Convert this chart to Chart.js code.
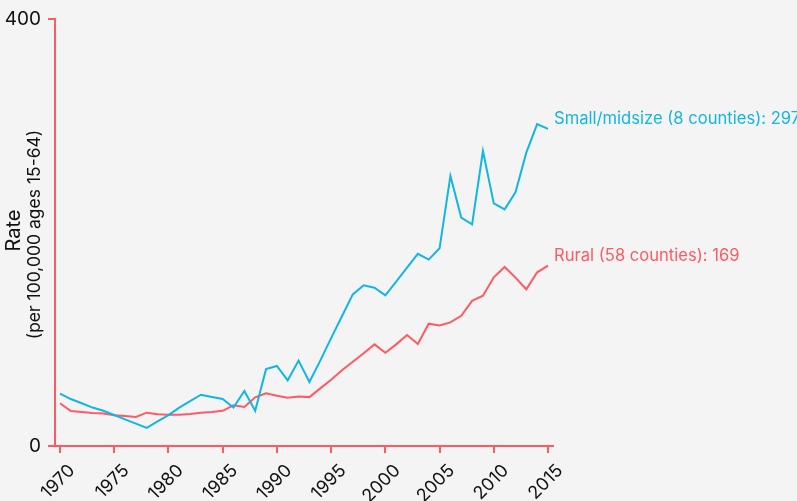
<!DOCTYPE html>
<html>
<head>
<meta charset="utf-8">
<script src="https://cdn.jsdelivr.net/npm/chart.js@4"></script>
<style>
  html, body { margin: 0; padding: 0; background: #f4f4f4; }
  #wrap { width: 797px; height: 501px; }
</style>
</head>
<body>
<div id="wrap"><canvas id="chart" width="797" height="501"></canvas></div>
<script>
// datos
const years = [1970, 1971, 1972, 1973, 1974, 1975, 1976, 1977, 1978, 1979,
  1980, 1981, 1982, 1983, 1984, 1985, 1986, 1987, 1988, 1989,
  1990, 1991, 1992, 1993, 1994, 1995, 1996, 1997, 1998, 1999,
  2000, 2001, 2002, 2003, 2004, 2005, 2006, 2007, 2008, 2009,
  2010, 2011, 2012, 2013, 2014, 2015];

const smallMidsize = [49, 44, 40, 36, 33, 29, 25, 21, 17, 23,
  29, 36, 42, 48, 46, 44, 36, 51.5, 33, 72,
  75, 61.5, 80, 60, 80, 101, 121.5, 142, 150.5, 148.3,
  141.2, 154, 167, 180, 174.6, 185.2, 253, 214, 207.7, 276.3,
  227.3, 221.7, 237.6, 274.8, 301.6, 297];

const rural = [40, 32.8, 31.8, 31, 30.5, 28.7, 28.1, 27.2, 31.2, 29.7,
  29.3, 29.3, 30, 31.2, 31.8, 33, 38.1, 36.5, 45.6, 49.4,
  47.1, 45.3, 46.3, 45.8, 54, 62, 71, 79, 86.8, 95.2,
  87.4, 95.2, 104, 95.5, 114.6, 113, 115.8, 122, 136, 140.8,
  158, 167.7, 157.7, 146.8, 162.7, 169];

const xTicks = [1970, 1975, 1980, 1985, 1990, 1995, 2000, 2005, 2010, 2015];
const yTicks = [0, 400];

const seriesNames = ['Small/midsize (8 counties)', 'Rural (58 counties)'];

const BLUE = '#12b5e3';
const RED = '#ff5964';
const FONT = 'Inter, "Noto Sans", sans-serif';

function toPoints(vals) {
  return years.map((y, i) => ({ x: y, y: vals[i] }));
}

// etiquetas al final de cada serie
const endLabels = {
  id: 'endLabels',
  afterDatasetsDraw(chart) {
    const ctx = chart.ctx;
    ctx.save();
    ctx.font = '16.6px ' + FONT;
    ctx.textBaseline = 'middle';
    ctx.textAlign = 'left';
    chart.data.datasets.forEach((ds, i) => {
      const meta = chart.getDatasetMeta(i);
      const last = meta.data[meta.data.length - 1];
      const v = ds.data[ds.data.length - 1].y;
      ctx.fillStyle = ds.borderColor;
      ctx.fillText(ds.label + ': ' + Math.round(v), last.x + 6, last.y - 10);
    });
    ctx.restore();
  }
};

// titulo del eje y en dos tamanos
const yTitle = {
  id: 'yTitle',
  afterDraw(chart) {
    const ctx = chart.ctx;
    const a = chart.chartArea;
    const cy = (a.top + a.bottom) / 2;
    ctx.save();
    ctx.fillStyle = '#111';
    ctx.textAlign = 'center';
    ctx.textBaseline = 'middle';
    ctx.translate(0, cy);
    ctx.rotate(-Math.PI / 2);
    ctx.font = '20px ' + FONT;
    ctx.fillText('Rate', 2, 14);
    ctx.font = '17.5px ' + FONT;
    ctx.fillText('(per 100,000 ages 15-64)', -2, 35);
    ctx.restore();
  }
};

new Chart(document.getElementById('chart'), {
  type: 'line',
  data: {
    datasets: [
      { label: seriesNames[0], data: toPoints(smallMidsize), borderColor: BLUE },
      { label: seriesNames[1], data: toPoints(rural), borderColor: RED }
    ]
  },
  options: {
    responsive: false,
    animation: false,
    layout: { padding: { top: 19, right: 244, left: 0, bottom: 0 } },
    elements: {
      point: { radius: 0 },
      line: { borderWidth: 2, tension: 0, fill: false }
    },
    plugins: {
      legend: { display: false },
      tooltip: { enabled: false }
    },
    scales: {
      x: {
        type: 'linear',
        min: 1969.54,
        max: 2015.46,
        afterBuildTicks(scale) { scale.ticks = xTicks.map(v => ({ value: v })); },
        afterFit(scale) { scale.height = 55; },
        border: { color: RED, width: 2 },
        grid: { drawOnChartArea: false, color: RED, tickLength: 7, lineWidth: 2 },
        ticks: {
          color: '#111',
          font: { family: FONT, size: 18 },
          maxRotation: 45,
          minRotation: 45,
          labelOffset: 12,
          padding: 7,
          callback: v => String(v)
        }
      },
      y: {
        min: 0,
        max: 400,
        afterBuildTicks(scale) { scale.ticks = yTicks.map(v => ({ value: v })); },
        afterFit(scale) { scale.width = 55; },
        border: { color: RED, width: 2 },
        grid: { drawOnChartArea: false, color: RED, tickLength: 7, lineWidth: 2 },
        ticks: {
          color: '#111',
          font: { family: FONT, size: 19 },
          padding: 7
        }
      }
    }
  },
  plugins: [endLabels, yTitle]
});
</script>
</body>
</html>
